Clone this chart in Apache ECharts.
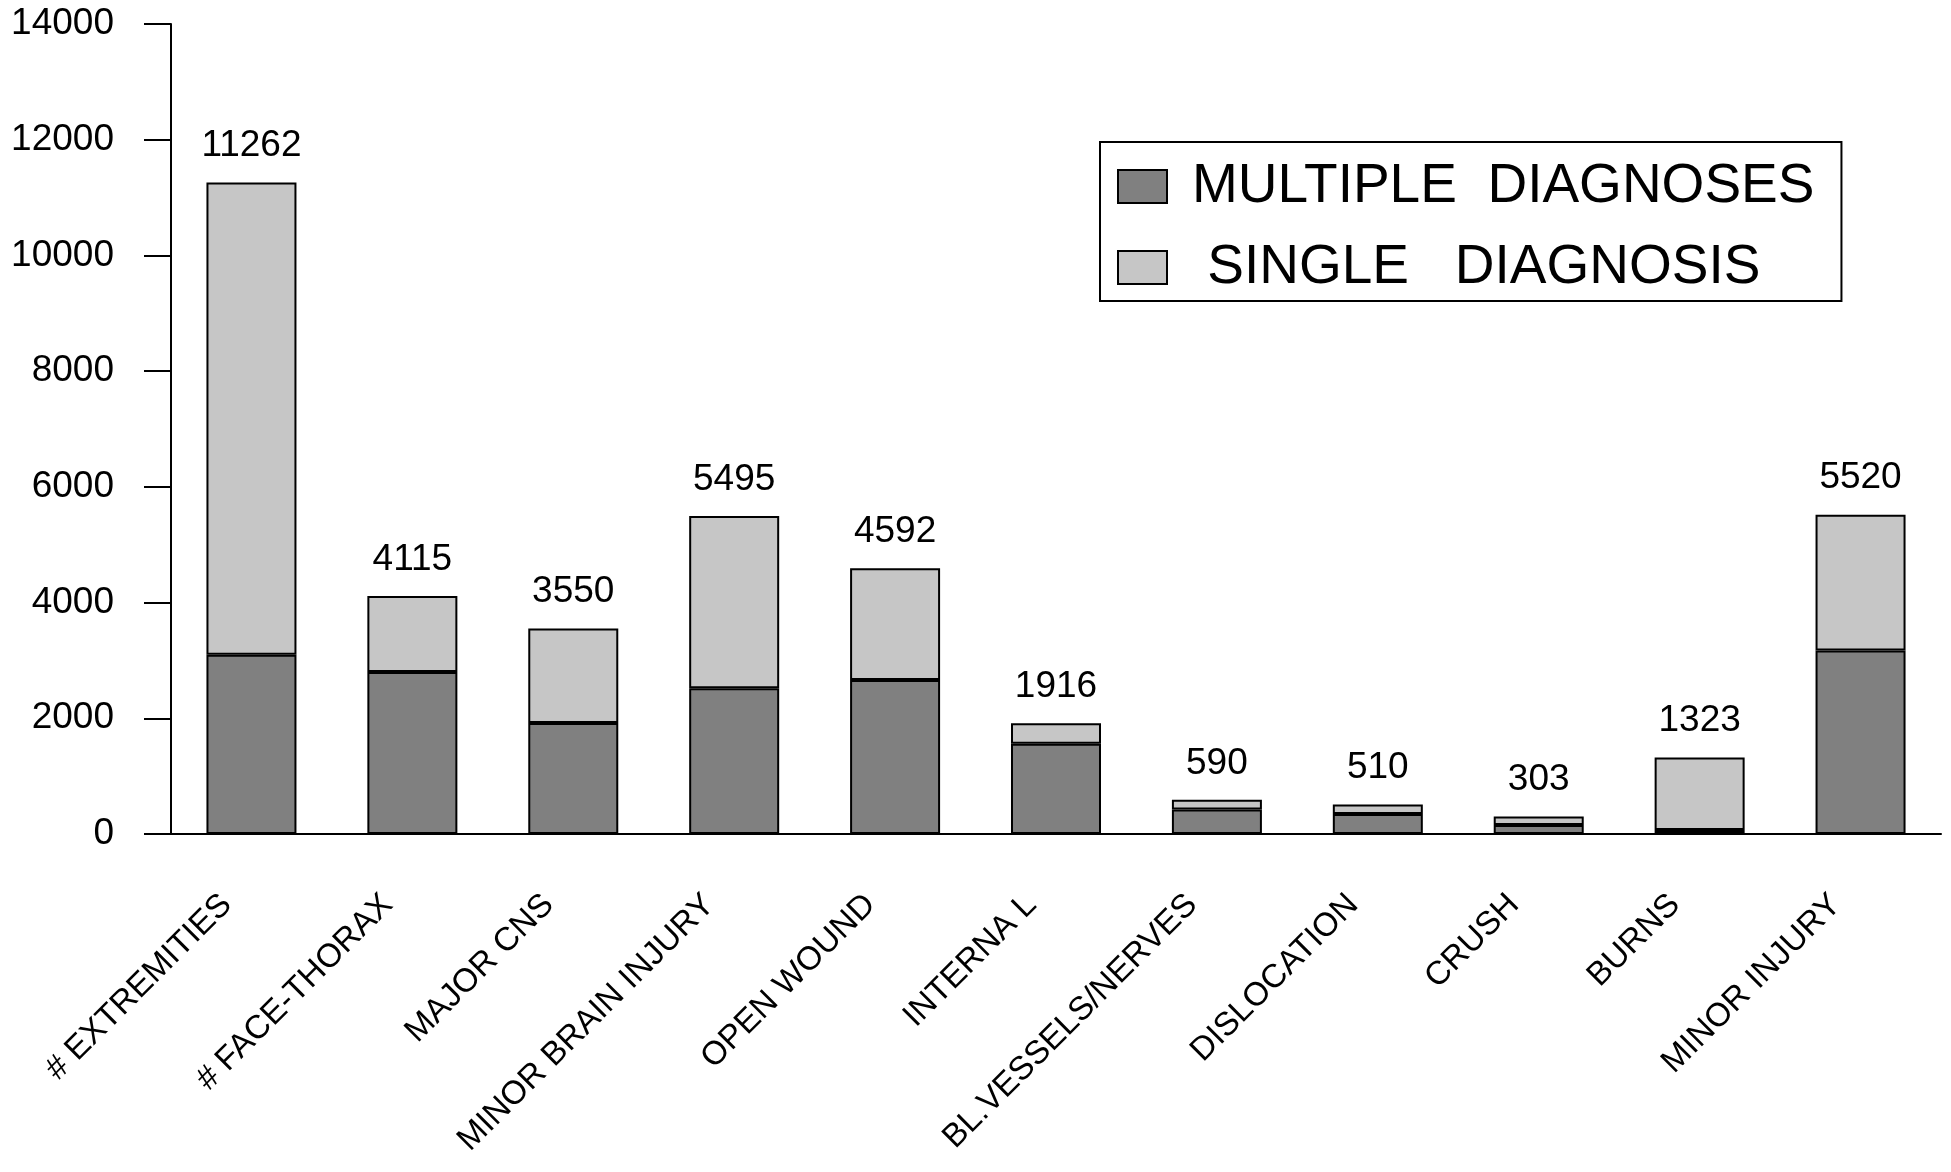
<!DOCTYPE html>
<html>
<head>
<meta charset="utf-8">
<script src="https://cdn.jsdelivr.net/npm/echarts@6/dist/echarts.min.js"></script>
<style>
html,body{margin:0;padding:0;background:#fff;}
#chart{width:1951px;height:1172px;}
</style>
</head>
<body>
<div id="chart"></div>
<script>
const categories = ['# EXTREMITIES', '# FACE-THORAX', 'MAJOR CNS', 'MINOR BRAIN INJURY', 'OPEN WOUND', 'INTERNA L', 'BL.VESSELS/NERVES', 'DISLOCATION', 'CRUSH', 'BURNS', 'MINOR INJURY'];
const multipleDiagnoses = [3100, 2800, 1920, 2520, 2660, 1560, 425, 345, 155, 70, 3170];
const singleDiagnosis = [8162, 1315, 1630, 2975, 1932, 356, 165, 165, 148, 1253, 2350];
const totals = [11262, 4115, 3550, 5495, 4592, 1916, 590, 510, 303, 1323, 5520];
const seriesNames = ['MULTIPLE  DIAGNOSES', ' SINGLE   DIAGNOSIS'];
const yTicks = { min: 0, max: 14000, interval: 2000 };

const FONT = '"Liberation Sans", Arial, sans-serif';
const chart = echarts.init(document.getElementById('chart'), null, { renderer: 'canvas' });
chart.setOption({
  animation: false,
  backgroundColor: '#ffffff',
  grid: { left: 171, right: 10, top: 24, bottom: 338, containLabel: false, outerBoundsMode: 'none' },
  legend: {
    orient: 'vertical',
    left: 1100,
    top: 142,
    padding: [17, 27, 6, 17],
    borderColor: '#000',
    borderWidth: 2,
    icon: 'rect',
    itemWidth: 49,
    itemHeight: 33,
    itemGap: 26,
    textStyle: { fontFamily: FONT, fontSize: 55, color: '#000', lineHeight: 55, padding: [0, 0, 0, 20] },
    data: seriesNames
  },
  xAxis: {
    type: 'category',
    data: categories,
    axisLine: { lineStyle: { color: '#000', width: 2 } },
    axisTick: { show: false },
    axisLabel: {
      interval: 0,
      rotate: 45,
      margin: 41,
      padding: [0, 35, 0, 0],
      fontFamily: FONT,
      fontSize: 33,
      color: '#000'
    }
  },
  yAxis: {
    type: 'value',
    min: yTicks.min,
    max: yTicks.max,
    interval: yTicks.interval,
    splitLine: { show: false },
    axisLine: { show: true, lineStyle: { color: '#000', width: 2 } },
    axisTick: { show: true, length: 27, lineStyle: { color: '#000', width: 2 } },
    axisLabel: { margin: 57, fontFamily: FONT, fontSize: 37, color: '#000', formatter: v => String(v) }
  },
  series: [
    {
      name: seriesNames[0],
      type: 'bar',
      stack: 'total',
      barWidth: 90,
      data: multipleDiagnoses,
      itemStyle: { color: '#808080', borderColor: '#000', borderWidth: 2 }
    },
    {
      name: seriesNames[1],
      type: 'bar',
      stack: 'total',
      barWidth: 90,
      data: singleDiagnosis,
      itemStyle: { color: '#c6c6c6', borderColor: '#000', borderWidth: 2 },
      label: {
        show: true,
        position: 'top',
        distance: 18,
        fontFamily: FONT,
        fontSize: 37,
        color: '#000',
        formatter: p => String(totals[p.dataIndex])
      }
    }
  ]
});
</script>
</body>
</html>
